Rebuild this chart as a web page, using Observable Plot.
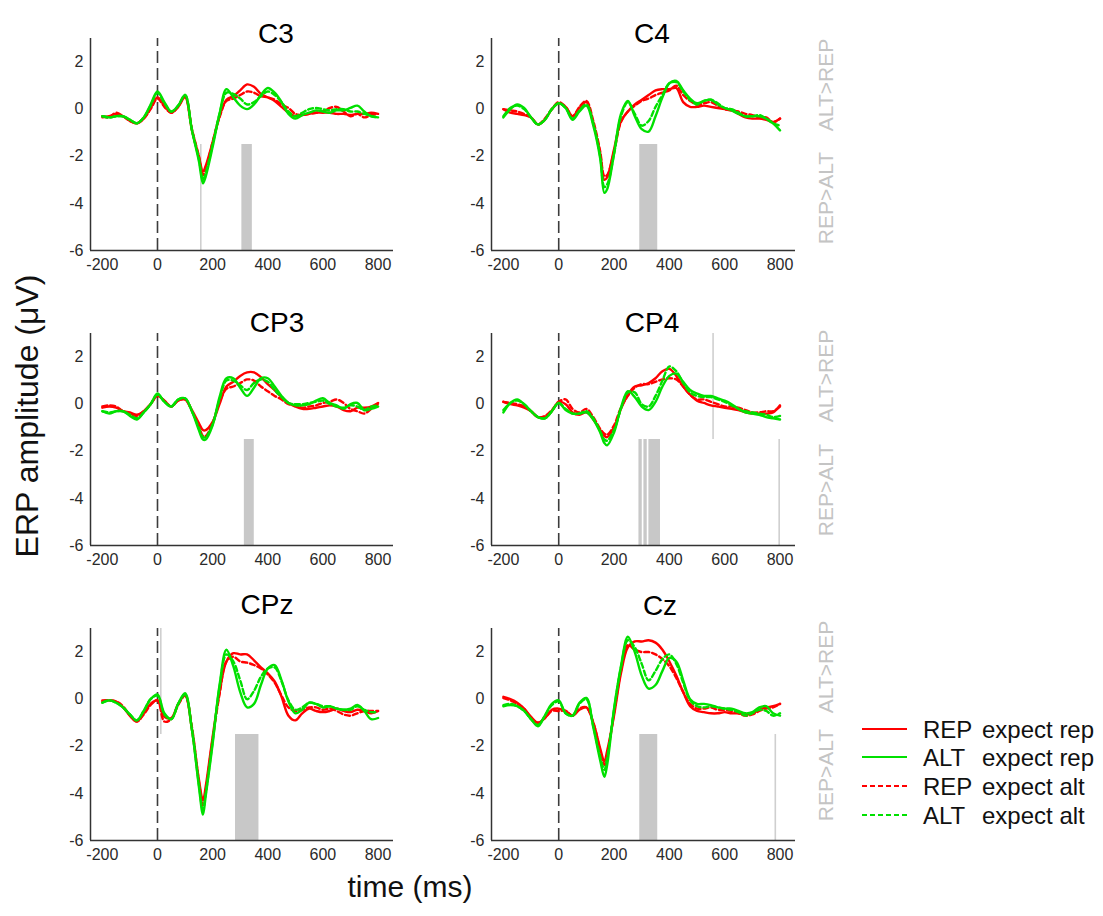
<!DOCTYPE html>
<html>
<head>
<meta charset="utf-8">
<script src="https://cdn.jsdelivr.net/npm/d3@7"></script>
<script src="https://cdn.jsdelivr.net/npm/@observablehq/plot@0.6"></script>
<style>
  html, body { margin: 0; padding: 0; background: #ffffff; }
  #fig { position: relative; width: 1103px; height: 916px; background: #ffffff; overflow: hidden; }
  #fig svg.panel { position: absolute; }
  #overlay { position: absolute; left: 0; top: 0; pointer-events: none; }
</style>
</head>
<body>
<div id="fig"></div>
<script>
// ---------------- DATA ----------------
const T = [-200,-175,-150,-125,-100,-75,-50,-25,0,25,50,75,100,125,150,165,175,200,225,250,275,300,325,350,375,400,425,450,475,500,525,550,575,600,625,650,675,700,725,750,775,800];

const SERIES = ["REP expect rep", "ALT expect rep", "REP expect alt", "ALT expect alt"];
const SERIES_COLORS = ["#ff0000", "#00e000", "#ff0000", "#00e000"];
const SERIES_DASH = [null, null, "5,3", "5,3"];

const PANELS = ["C3", "C4", "CP3", "CP4", "CPz", "Cz"];

// C3
const C3_RR = [-0.35,-0.3,-0.2,-0.3,-0.5,-0.6,-0.4,0.05,0.5,0.15,-0.15,0.1,0.5,-0.9,-2.0,-2.65,-2.4,-1.4,-0.3,0.4,0.55,0.8,1.05,0.95,0.65,0.5,0.35,0.1,-0.15,-0.3,-0.25,-0.2,-0.15,-0.15,-0.15,-0.2,-0.2,-0.25,-0.2,-0.2,-0.15,-0.2];
const C3_AR = [-0.3,-0.35,-0.3,-0.3,-0.45,-0.6,-0.35,0.2,0.75,0.3,-0.1,0.15,0.6,-0.9,-2.2,-3.15,-2.85,-1.6,-0.2,0.85,0.5,0.15,0.0,0.2,0.6,0.9,0.7,0.3,-0.2,-0.4,-0.25,-0.15,-0.05,-0.1,-0.15,-0.05,-0.05,0.05,0.15,-0.1,-0.3,-0.35];
const C3_RA = [-0.3,-0.35,-0.15,-0.3,-0.5,-0.6,-0.4,0.0,0.45,0.1,-0.15,0.1,0.55,-0.85,-2.0,-2.8,-2.55,-1.4,-0.35,0.35,0.45,0.6,0.75,0.7,0.55,0.5,0.4,0.2,0.05,-0.2,-0.25,-0.2,-0.15,-0.1,0.05,0.1,-0.1,-0.3,-0.2,-0.35,-0.25,-0.2];
const C3_AA = [-0.3,-0.35,-0.3,-0.3,-0.45,-0.6,-0.35,0.15,0.7,0.25,-0.1,0.15,0.6,-0.9,-2.1,-3.0,-2.7,-1.5,-0.2,0.7,0.65,0.45,0.2,0.3,0.55,0.75,0.6,0.3,-0.1,-0.3,-0.15,0.0,0.05,0.0,-0.05,0.0,0.0,-0.1,-0.1,-0.2,-0.3,-0.35];

// C4
const C4_RR = [0.0,-0.15,-0.2,-0.25,-0.35,-0.65,-0.45,0.0,0.25,0.1,-0.3,0.05,0.3,-0.6,-1.9,-3.0,-2.9,-1.7,-0.5,-0.1,0.2,0.4,0.6,0.8,0.85,0.85,0.9,0.3,0.1,0.1,0.15,0.1,0.05,0.0,-0.05,-0.2,-0.35,-0.4,-0.4,-0.45,-0.55,-0.4];
const C4_AR = [-0.35,0.0,0.2,0.05,-0.35,-0.65,-0.45,0.0,0.25,0.05,-0.45,-0.1,0.15,-0.7,-2.1,-3.55,-3.4,-1.9,-0.2,0.35,-0.3,-0.85,-0.95,-0.3,0.5,1.1,1.2,0.8,0.45,0.25,0.35,0.4,0.2,0.05,-0.05,-0.2,-0.3,-0.3,-0.3,-0.4,-0.6,-0.9];
const C4_RA = [0.0,-0.05,-0.1,-0.2,-0.35,-0.65,-0.4,0.0,0.3,0.1,-0.3,0.1,0.35,-0.5,-1.8,-2.85,-2.8,-1.8,-0.55,-0.1,0.15,0.35,0.45,0.6,0.7,0.8,1.0,0.6,0.35,0.2,0.25,0.3,0.15,0.0,-0.05,-0.1,-0.2,-0.25,-0.35,-0.35,-0.55,-0.4];
const C4_AA = [-0.3,0.05,0.15,0.0,-0.35,-0.65,-0.45,0.0,0.25,0.05,-0.4,-0.05,0.2,-0.6,-2.0,-3.3,-3.2,-1.9,-0.3,0.3,-0.2,-0.7,-0.5,0.1,0.6,1.1,1.15,0.75,0.4,0.2,0.35,0.4,0.25,0.05,0.0,-0.15,-0.3,-0.3,-0.25,-0.4,-0.6,-0.7];

// CP3
const CP3_RR = [-0.15,-0.1,-0.15,-0.3,-0.35,-0.45,-0.3,0.0,0.35,0.15,-0.1,0.15,0.2,-0.25,-0.8,-1.1,-1.1,-0.75,0.0,0.75,0.95,1.2,1.35,1.35,1.15,0.85,0.6,0.3,0.05,-0.1,-0.2,-0.2,-0.15,-0.1,-0.05,-0.1,-0.25,-0.3,-0.15,-0.15,-0.1,0.05];
const CP3_AR = [-0.3,-0.4,-0.3,-0.3,-0.5,-0.65,-0.35,0.0,0.45,0.1,-0.1,0.2,0.25,-0.3,-1.1,-1.5,-1.5,-0.9,0.3,1.1,1.1,0.7,0.35,0.7,1.1,1.1,0.75,0.35,0.05,-0.05,-0.05,0.0,0.15,0.25,0.05,-0.05,-0.2,0.0,0.05,-0.25,-0.2,-0.1];
const CP3_RA = [-0.1,-0.05,-0.1,-0.3,-0.4,-0.5,-0.3,0.0,0.35,0.15,-0.1,0.15,0.2,-0.3,-0.95,-1.35,-1.35,-0.8,0.1,0.65,0.75,0.9,1.05,1.0,0.75,0.55,0.35,0.2,0.0,-0.05,-0.15,-0.1,-0.05,0.05,0.1,0.2,0.05,-0.2,-0.3,-0.4,-0.2,0.0];
const CP3_AA = [-0.3,-0.35,-0.3,-0.3,-0.45,-0.6,-0.35,0.0,0.4,0.1,-0.1,0.2,0.25,-0.3,-1.0,-1.4,-1.4,-0.85,0.2,1.0,1.0,0.8,0.6,0.9,1.05,0.95,0.6,0.3,0.05,0.0,0.0,0.05,0.1,0.15,0.0,-0.1,-0.15,-0.05,-0.1,-0.25,-0.1,-0.05];

// CP4
const CP4_RR = [0.1,0.0,-0.05,-0.15,-0.3,-0.55,-0.55,-0.3,0.1,0.0,-0.35,-0.45,-0.35,-0.65,-1.1,-1.35,-1.4,-1.0,-0.2,0.4,0.75,0.8,0.9,1.1,1.4,1.5,1.2,0.75,0.4,0.15,0.05,-0.05,-0.1,-0.15,-0.2,-0.25,-0.35,-0.4,-0.4,-0.4,-0.35,-0.05];
const CP4_AR = [-0.35,0.05,0.2,0.0,-0.3,-0.55,-0.6,-0.3,0.05,-0.25,-0.4,-0.4,-0.35,-0.65,-1.2,-1.65,-1.75,-1.2,-0.15,0.55,0.3,-0.1,-0.25,0.1,0.75,1.2,1.3,0.95,0.6,0.45,0.35,0.35,0.25,0.15,0.0,-0.2,-0.35,-0.4,-0.45,-0.55,-0.6,-0.65];
const CP4_RA = [0.1,0.05,0.0,-0.1,-0.3,-0.55,-0.5,-0.25,0.1,0.2,-0.2,-0.35,-0.2,-0.55,-1.05,-1.25,-1.3,-0.9,-0.15,0.35,0.7,0.85,0.85,0.95,1.05,1.1,1.05,0.75,0.4,0.2,0.2,0.1,0.0,-0.1,-0.1,-0.15,-0.25,-0.35,-0.35,-0.3,-0.3,-0.1];
const CP4_AA = [-0.25,0.05,0.15,0.0,-0.3,-0.55,-0.6,-0.3,0.05,-0.2,-0.4,-0.4,-0.3,-0.6,-1.15,-1.5,-1.55,-1.1,-0.2,0.5,0.5,0.0,-0.1,0.35,1.0,1.6,1.4,0.9,0.5,0.35,0.3,0.3,0.2,0.1,-0.05,-0.2,-0.3,-0.35,-0.4,-0.45,-0.55,-0.5];

// CPz
const CPz_RR = [-0.1,-0.05,-0.1,-0.35,-0.7,-0.95,-0.6,-0.2,-0.05,-0.75,-0.8,-0.2,0.15,-1.3,-3.4,-4.3,-3.7,-1.6,0.3,1.6,1.95,1.9,1.9,1.65,1.35,1.1,0.75,0.1,-0.7,-0.9,-0.6,-0.4,-0.5,-0.55,-0.5,-0.4,-0.5,-0.55,-0.45,-0.5,-0.6,-0.5];
const CPz_AR = [-0.15,-0.05,-0.15,-0.35,-0.65,-0.9,-0.5,0.0,0.2,-0.6,-0.85,-0.2,0.25,-1.3,-3.7,-4.9,-4.1,-1.9,0.6,2.1,1.4,0.3,-0.35,-0.2,0.6,1.3,1.45,0.8,-0.1,-0.6,-0.45,-0.15,-0.2,-0.35,-0.3,-0.4,-0.45,-0.4,-0.25,-0.5,-0.85,-0.8];
const CPz_RA = [-0.05,-0.05,-0.1,-0.3,-0.7,-0.95,-0.65,-0.25,-0.05,-0.95,-0.85,-0.25,0.15,-1.2,-3.5,-4.5,-3.9,-1.7,0.2,1.6,1.8,1.6,1.55,1.45,1.3,1.05,0.7,0.15,-0.35,-0.5,-0.45,-0.35,-0.35,-0.45,-0.4,-0.5,-0.65,-0.7,-0.6,-0.5,-0.5,-0.5];
const CPz_AA = [-0.15,-0.05,-0.15,-0.35,-0.65,-0.9,-0.5,0.0,0.15,-0.65,-0.85,-0.2,0.2,-1.3,-3.6,-4.7,-4.0,-1.8,0.5,1.9,1.6,0.8,0.0,0.35,0.95,1.3,1.35,0.75,-0.05,-0.45,-0.35,-0.15,-0.2,-0.3,-0.3,-0.4,-0.45,-0.45,-0.3,-0.45,-0.55,-0.55];

// Cz
const Cz_RR = [0.1,0.0,-0.15,-0.4,-0.75,-1.0,-0.8,-0.45,-0.4,-0.5,-0.7,-0.45,-0.35,-1.0,-2.1,-2.65,-2.2,-0.7,1.1,2.2,2.45,2.45,2.5,2.4,2.1,1.6,1.0,0.3,-0.3,-0.5,-0.55,-0.6,-0.6,-0.55,-0.6,-0.6,-0.65,-0.6,-0.45,-0.35,-0.3,-0.2];
const Cz_AR = [-0.3,-0.25,-0.3,-0.5,-0.85,-1.15,-0.7,-0.2,-0.05,-0.6,-0.7,-0.15,0.05,-1.2,-2.6,-3.3,-2.8,-0.4,1.4,2.65,2.0,1.0,0.45,0.6,1.2,1.75,1.6,0.8,0.0,-0.2,-0.2,-0.25,-0.35,-0.4,-0.4,-0.5,-0.6,-0.55,-0.35,-0.3,-0.6,-0.7];
const Cz_RA = [0.05,-0.05,-0.2,-0.4,-0.8,-1.0,-0.8,-0.5,-0.5,-0.5,-0.7,-0.4,-0.35,-1.0,-2.2,-2.8,-2.4,-0.6,1.2,2.3,2.1,2.0,2.0,1.9,1.7,1.4,0.9,0.3,-0.2,-0.4,-0.4,-0.35,-0.45,-0.45,-0.5,-0.6,-0.7,-0.65,-0.5,-0.4,-0.35,-0.2];
const Cz_AA = [-0.25,-0.2,-0.3,-0.5,-0.85,-1.1,-0.7,-0.25,-0.1,-0.6,-0.7,-0.2,0.0,-1.15,-2.45,-3.0,-2.5,-0.45,1.35,2.5,2.2,1.5,0.8,1.2,1.7,1.9,1.5,0.7,-0.05,-0.3,-0.35,-0.3,-0.35,-0.4,-0.45,-0.55,-0.7,-0.6,-0.45,-0.5,-0.7,-0.6];

// Significant windows (ms): [start, end] shaded bars in REP>ALT zone
const C3_BARS = [[306, 344]];
const C4_BARS = [[293, 358]];
const CP3_BARS = [[315, 351]];
const CP4_BARS = [[290, 302], [308, 320], [326, 368]];
const CPz_BARS = [[283, 368]];
const Cz_BARS = [[293, 358]];
// single-sample significant points (ms, zone)
const C3_POINTS = [[157, "REP>ALT"]];
const C4_POINTS = [];
const CP3_POINTS = [];
const CP4_POINTS = [[558, "ALT>REP"], [797, "REP>ALT"]];
const CPz_POINTS = [[12, "ALT>REP"]];
const Cz_POINTS = [[783, "REP>ALT"]];

const X_DOMAIN = [-243, 856];
const Y_DOMAIN = [-6, 3];
const ZONE_SPLIT = -1.5;
const X_TICKS = [-200, 0, 200, 400, 600, 800];
const Y_TICKS = [-6, -4, -2, 0, 2];
const ZONE_LABELS = ["ALT>REP", "REP>ALT"];

// ---------------- BUILD ----------------
const panelData = {
  C3: [C3_RR, C3_AR, C3_RA, C3_AA],
  C4: [C4_RR, C4_AR, C4_RA, C4_AA],
  CP3: [CP3_RR, CP3_AR, CP3_RA, CP3_AA],
  CP4: [CP4_RR, CP4_AR, CP4_RA, CP4_AA],
  CPz: [CPz_RR, CPz_AR, CPz_RA, CPz_AA],
  Cz: [Cz_RR, Cz_AR, Cz_RA, Cz_AA]
};
const panelBars = {C3: C3_BARS, C4: C4_BARS, CP3: CP3_BARS, CP4: CP4_BARS, CPz: CPz_BARS, Cz: Cz_BARS};
const panelPoints = {C3: C3_POINTS, C4: C4_POINTS, CP3: CP3_POINTS, CP4: CP4_POINTS, CPz: CPz_POINTS, Cz: Cz_POINTS};

const FONT = "'Liberation Sans', Arial, Helvetica, sans-serif";
const fig = document.getElementById("fig");

// layout
const COL_LEFT = [50, 451];
const COL_WIDTH = [348, 349];
const ROW_TOP = [28, 323, 618];
const M = {left: 40, right: 5, top: 10, bottom: 25};
const PANEL_H = 247;

const drawOrder = [2, 0, 3, 1];

PANELS.forEach((name, i) => {
  const col = i % 2, row = Math.floor(i / 2);
  const series = panelData[name];
  const marks = [];
  // significance bars
  marks.push(Plot.rect(panelBars[name], {
    x1: d => d[0], x2: d => d[1], y1: Y_DOMAIN[0], y2: ZONE_SPLIT, fill: "#c8c8c8"
  }));
  marks.push(Plot.ruleX(panelPoints[name], {
    x: d => d[0],
    y1: d => d[1] === "REP>ALT" ? Y_DOMAIN[0] : ZONE_SPLIT,
    y2: d => d[1] === "REP>ALT" ? ZONE_SPLIT : Y_DOMAIN[1],
    stroke: "#cfcfcf", strokeWidth: 1.6
  }));
  // axes lines
  marks.push(Plot.ruleX([X_DOMAIN[0]], {y1: Y_DOMAIN[0], y2: Y_DOMAIN[1], stroke: "#333", strokeWidth: 1.5}));
  marks.push(Plot.ruleY([Y_DOMAIN[0]], {x1: X_DOMAIN[0], x2: X_DOMAIN[1], stroke: "#333", strokeWidth: 1.5}));
  // stimulus onset
  marks.push(Plot.ruleX([0], {y1: Y_DOMAIN[0], y2: Y_DOMAIN[1], stroke: "#3c3c3c", strokeWidth: 1.6, strokeDasharray: "12,5"}));
  // waveforms
  drawOrder.forEach(k => {
    const rows = T.map((t, j) => ({t, v: series[k][j]}));
    marks.push(Plot.line(rows, {
      x: "t", y: "v", curve: "catmull-rom",
      stroke: SERIES_COLORS[k], strokeWidth: 2.4,
      strokeDasharray: SERIES_DASH[k] || undefined
    }));
  });
  marks.push(Plot.axisX({ticks: X_TICKS, tickSize: 0, tickPadding: 8, tickFormat: d => String(d), label: null}));
  marks.push(Plot.axisY({ticks: Y_TICKS, tickSize: 0, tickPadding: 7, tickFormat: d => String(d), label: null}));

  const svg = Plot.plot({
    width: COL_WIDTH[col], height: PANEL_H,
    marginLeft: M.left, marginRight: M.right, marginTop: M.top, marginBottom: M.bottom,
    x: {domain: X_DOMAIN},
    y: {domain: Y_DOMAIN},
    style: {fontFamily: FONT, fontSize: "16px", color: "#2a2a2a", background: "transparent", overflow: "visible"},
    marks
  });
  svg.classList.add("panel");
  svg.style.left = COL_LEFT[col] + "px";
  svg.style.top = ROW_TOP[row] + "px";
  fig.appendChild(svg);
});

// ---------------- TEXT OVERLAY ----------------
const ov = d3.select(fig).append("svg")
  .attr("id", "overlay").attr("width", 1103).attr("height", 916)
  .style("font-family", FONT);

const TITLE_POS = [[276, 43], [652, 43], [277, 332], [652, 332], [267, 614], [660, 615]];
PANELS.forEach((name, i) => {
  ov.append("text").attr("x", TITLE_POS[i][0]).attr("y", TITLE_POS[i][1])
    .attr("text-anchor", "middle").attr("font-size", 28).attr("fill", "#000").text(name);
});

// zone labels
const ZONE_Y = [[85, 198], [376, 490], [667, 775]];
ZONE_Y.forEach(ys => {
  ZONE_LABELS.forEach((lab, j) => {
    ov.append("text")
      .attr("transform", `translate(825,${ys[j]}) rotate(-90)`)
      .attr("text-anchor", "middle").attr("dominant-baseline", "central")
      .attr("font-size", 21).attr("fill", "#c4c4c4").text(lab);
  });
});

// axis titles
ov.append("text").attr("transform", "translate(27,416) rotate(-90)")
  .attr("text-anchor", "middle").attr("dominant-baseline", "central")
  .attr("font-size", 32).attr("fill", "#111").text("ERP amplitude (μV)");
ov.append("text").attr("x", 410).attr("y", 897)
  .attr("text-anchor", "middle").attr("font-size", 30).attr("fill", "#111").text("time (ms)");

// legend
const LEG_Y = [729, 757, 786, 815];
SERIES.forEach((s, k) => {
  const y = LEG_Y[k];
  ov.append("line").attr("x1", 862).attr("x2", 907).attr("y1", y).attr("y2", y)
    .attr("stroke", SERIES_COLORS[k]).attr("stroke-width", 2.2)
    .attr("stroke-dasharray", SERIES_DASH[k] || null);
  const sp = s.indexOf(" ");
  ov.append("text").attr("x", 923).attr("y", y).attr("dominant-baseline", "central")
    .attr("font-size", 24).attr("fill", "#111").text(s.slice(0, sp));
  ov.append("text").attr("x", 982).attr("y", y).attr("dominant-baseline", "central")
    .attr("font-size", 24).attr("fill", "#111").text(s.slice(sp + 1));
});
</script>
</body>
</html>
